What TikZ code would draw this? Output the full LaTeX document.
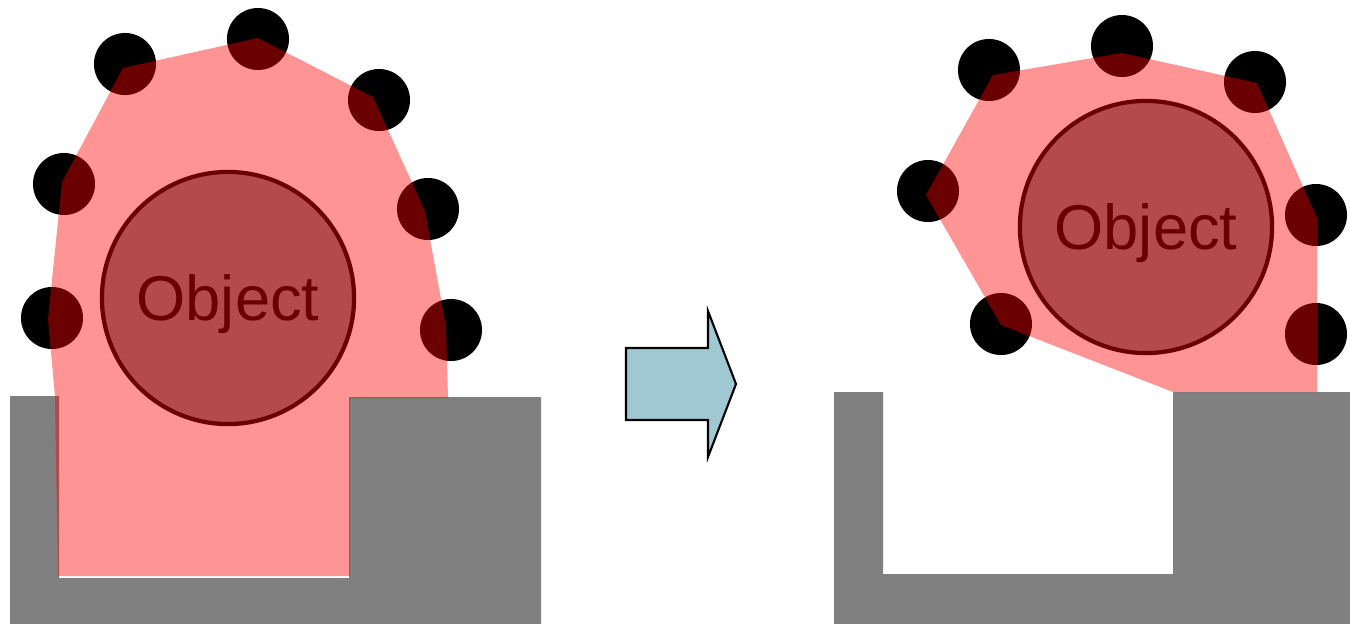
\documentclass[tikz,border=0pt]{standalone}
\usepackage{fontspec}
\setmainfont{Liberation Sans}
\usetikzlibrary{positioning}
\definecolor{albastru}{RGB}{160,200,210}
\tikzset{
  baza/.style        = {fill=gray},
  obiect/.style      = {circle, draw=black, line width=1.2pt, fill=gray, minimum size=2.52cm,
                        inner sep=0pt, text depth=0pt, font=\fontsize{18}{20}\selectfont},
  punct/.style       = {circle, fill=black, minimum size=6.2mm, inner sep=0pt},
  zona/.style        = {fill=red, fill opacity=0.42},
  sageatamare/.style = {draw=black, line width=0.6pt, fill=albastru, line join=miter}
}
\begin{document}
\begin{tikzpicture}[x=0.01cm, y=-0.01cm]
		\useasboundingbox (0,0) rectangle (1350,624);
		% stanga: obiectul prins in locas
		\fill[baza] (10,396) -- (59,396) -- (59,578) -- (349,578) -- (349,397) -- (541,397) -- (541,624) -- (10,624) -- cycle;
		\node[obiect] (obst) at (228,298) {Object};
		\foreach \n/\p in {s1/{125,64}, s2/{258,39}, s3/{379,100}, s4/{64,184}, s5/{428,209}, s6/{52,318}, s7/{451,330}}
			\node[punct] (\n) at (\p) {};
		\fill[zona] (58,576) -- (55,396) -- (48,319) -- (62,182) -- (123,68) -- (258,38) -- (373,97)
			-- (425,211) -- (446,327) -- (448,398) -- (350,398) -- (350,576) -- cycle;

		% sageata
		\draw[sageatamare] (626,348) -- (708,348) -- (708,311) -- (736,384) -- (708,457) -- (708,420) -- (626,420) -- cycle;

		% dreapta: obiectul scos
		\fill[baza] (834,392) -- (883,392) -- (883,574) -- (1173,574) -- (1173,392) -- (1350,392) -- (1350,624) -- (834,624) -- cycle;
		\node[obiect] (obdr) at (1146,227) {Object};
		\foreach \n/\p in {d1/{989,70}, d2/{1122,46}, d3/{1255,82}, d4/{928,191}, d5/{1316,215}, d6/{1001,324}, d7/{1316,334}}
			\node[punct] (\n) at (\p) {};
		\fill[zona] (993,75) -- (1122,53) -- (1257,83) -- (1317,218) -- (1317,392) -- (1173,392) -- (1001,325) -- (926,195) -- cycle;
	\end{tikzpicture}
\end{document}
